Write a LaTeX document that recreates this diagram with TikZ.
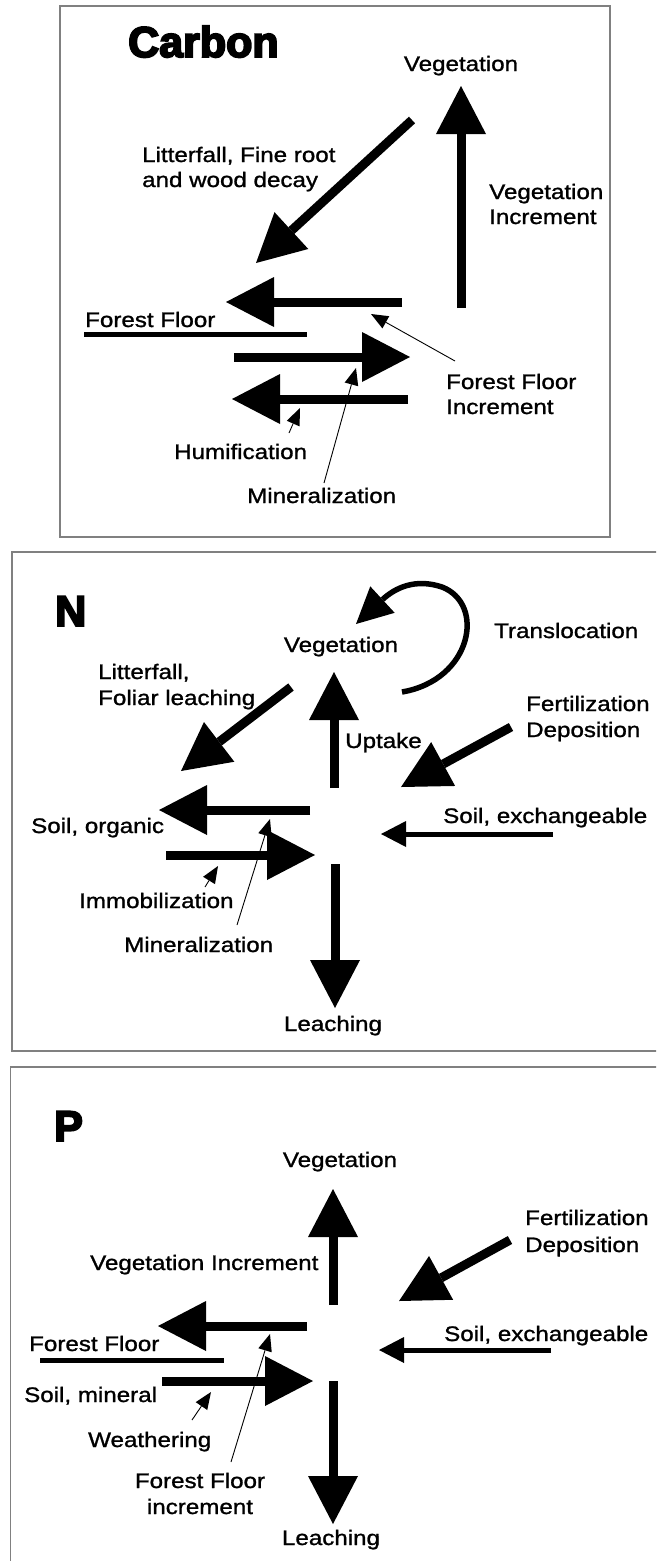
\documentclass[tikz,border=0pt]{standalone}
\usepackage{fontspec}
\setmainfont[FakeStretch=1.15,FakeBold=1.2]{Liberation Sans}
\newfontfamily\heavyfont[FakeBold=4.5]{Liberation Sans Bold}
\usetikzlibrary{arrows.meta}

\tikzset{
  lbl/.style={inner sep=0pt, anchor=base west, font=\fontsize{21}{25}\selectfont},
  title/.style={inner sep=0pt, anchor=base west, font=\heavyfont\fontsize{43}{47}\selectfont},
  frame/.style={draw=black!50, line width=1.3pt},
  fatarrow/.style={line width=9pt, -{Triangle[length=48pt,width=50pt,line width=0pt]}},
  midarrow/.style={line width=5pt, -{Triangle[length=25pt,width=26pt,line width=0pt]}},
  curlarrow/.style={line width=5.5pt, -{Triangle[length=36pt,width=36pt,line width=0pt]}},
  thinarrow/.style={line width=0.9pt, -{Triangle[length=17pt,width=14pt,line width=0pt]}},
}

\begin{document}
\begin{tikzpicture}[x=1pt,y=-1pt]
\useasboundingbox (0,0) rectangle (656,1561);
\clip (0,0) rectangle (656,1561);

% ---------------- Carbon ----------------
\draw [frame] (60,6) rectangle (610,537);
\node (carbon) [title] at (128,57) {Carbon};

% Pools and fluxes, carbon
\node (vegC) [lbl, anchor=base] at (461,71) {Vegetation};
\node (litC1) [lbl] at (142,162) {Litterfall, Fine root};
\node (litC2) [lbl] at (142,187) {and wood decay};
\node (vincC1) [lbl] at (489,199) {Vegetation};
\node (vincC2) [lbl] at (489,224) {Increment};
\node (ffC) [lbl] at (85,327) {Forest Floor};
\node (ffincC1) [lbl] at (446,389) {Forest Floor};
\node (ffincC2) [lbl] at (446,414) {Increment};
\node (humC) [lbl] at (174,459) {Humification};
\node (minC) [lbl] at (247,503) {Mineralization};

\coordinate (c1) at (461,308);  \coordinate (c2) at (461,86);
\coordinate (c3) at (412,120);  \coordinate (c4) at (256,263);
\coordinate (c5) at (402,302);  \coordinate (c6) at (226,302);
\coordinate (c7) at (234,357);  \coordinate (c8) at (410,357);
\coordinate (c9) at (408,399);  \coordinate (c10) at (232,399);
\coordinate (c11) at (455,361); \coordinate (c12) at (371,314);
\coordinate (c13) at (324,483); \coordinate (c14) at (356,368);
\coordinate (c15) at (289,433); \coordinate (c16) at (300,408);

\draw [fatarrow] (c1) -- (c2);
\draw [fatarrow] (c3) -- (c4);
\draw [fatarrow] (c5) -- (c6);
\draw [fatarrow] (c7) -- (c8);
\draw [fatarrow] (c9) -- (c10);
\draw [line width=5pt] (84,334) -- (307,334);% floor line
\draw [thinarrow] (c11) -- (c12);
\draw [thinarrow] (c13) -- (c14);
\draw [thinarrow] (c15) -- (c16);

% ---------------- Nitrogen ----------------
\draw [frame] (12,552) rectangle (700,1051);
\node (nitro) [title] at (55,626) {N};

\node (vegN) [lbl, anchor=base] at (341,652) {Vegetation};
\node (transN) [lbl] at (494,638) {Translocation};
\node (litN1) [lbl] at (98,679) {Litterfall,};
\node (litN2) [lbl] at (98,705) {Foliar leaching};
\node (uptN) [lbl] at (345,748) {Uptake};
\node (fertN1) [lbl] at (526,711) {Fertilization};
\node (fertN2) [lbl] at (526,737) {Deposition};
\node (orgN) [lbl] at (31,833) {Soil, organic};
\node (exchN) [lbl] at (443,823) {Soil, exchangeable};
\node (immN) [lbl] at (79,908) {Immobilization};
\node (minN) [lbl] at (124,952) {Mineralization};
\node (leachN) [lbl, anchor=base] at (333,1031) {Leaching};

\coordinate (n1) at (291,687);  \coordinate (n2) at (181,771);
\coordinate (n3) at (334,788);  \coordinate (n4) at (334,672);
\coordinate (n5) at (511,727);  \coordinate (n6) at (401,787);
\coordinate (n7) at (310,810);  \coordinate (n8) at (159,810);
\coordinate (n9) at (166,855);  \coordinate (n10) at (315,855);
\coordinate (n11) at (553,834); \coordinate (n12) at (381,834);
\coordinate (n13) at (335,864); \coordinate (n14) at (335,1008);
\coordinate (n15) at (205,887); \coordinate (n16) at (218,866);
\coordinate (n17) at (237,925); \coordinate (n18) at (270,819);

\draw [curlarrow] (402,692) .. controls (472,680) and (486,604) .. (442,587)
                  .. controls (415,578) and (395,588) .. (356,624);
\draw [fatarrow] (n1) -- (n2);
\draw [fatarrow] (n3) -- (n4);
\draw [fatarrow] (n5) -- (n6);
\draw [fatarrow] (n7) -- (n8);
\draw [fatarrow] (n9) -- (n10);
\draw [midarrow] (n11) -- (n12);
\draw [fatarrow] (n13) -- (n14);
\draw [thinarrow] (n15) -- (n16);
\draw [thinarrow] (n17) -- (n18);

% ---------------- Phosphorus ----------------
\draw [frame] (10.5,1067) rectangle (700,1600);
\node (phos) [title] at (54,1141) {P};

\node (vegP) [lbl, anchor=base] at (340,1167) {Vegetation};
\node (vincP) [lbl] at (90,1270) {Vegetation Increment};
\node (fertP1) [lbl] at (525,1225) {Fertilization};
\node (fertP2) [lbl] at (525,1252) {Deposition};
\node (exchP) [lbl] at (444,1341) {Soil, exchangeable};
\node (ffP) [lbl] at (29,1351) {Forest Floor};
\node (minlP) [lbl] at (24,1402) {Soil, mineral};
\node (weaP) [lbl] at (88,1447) {Weathering};
\node (ffincP1) [lbl, anchor=base] at (200,1488) {Forest Floor};
\node (ffincP2) [lbl, anchor=base] at (200,1514) {increment};
\node (leachP) [lbl, anchor=base] at (331,1545) {Leaching};

\coordinate (p1) at (333,1305);  \coordinate (p2) at (333,1189);
\coordinate (p3) at (510,1240);  \coordinate (p4) at (399,1301);
\coordinate (p5) at (307,1326);  \coordinate (p6) at (158,1326);
\coordinate (p7) at (162,1381);  \coordinate (p8) at (313,1381);
\coordinate (p9) at (551,1350);  \coordinate (p10) at (379,1350);
\coordinate (p11) at (333,1381); \coordinate (p12) at (333,1524);
\coordinate (p13) at (192,1420); \coordinate (p14) at (211,1392);
\coordinate (p15) at (231,1462); \coordinate (p16) at (270,1334);

\draw [fatarrow] (p1) -- (p2);
\draw [fatarrow] (p3) -- (p4);
\draw [fatarrow] (p5) -- (p6);
\draw [line width=5pt] (40,1360) -- (224,1360);% floor line
\draw [fatarrow] (p7) -- (p8);
\draw [midarrow] (p9) -- (p10);
\draw [fatarrow] (p11) -- (p12);
\draw [thinarrow] (p13) -- (p14);
\draw [thinarrow] (p15) -- (p16);
\end{tikzpicture}
\end{document}
